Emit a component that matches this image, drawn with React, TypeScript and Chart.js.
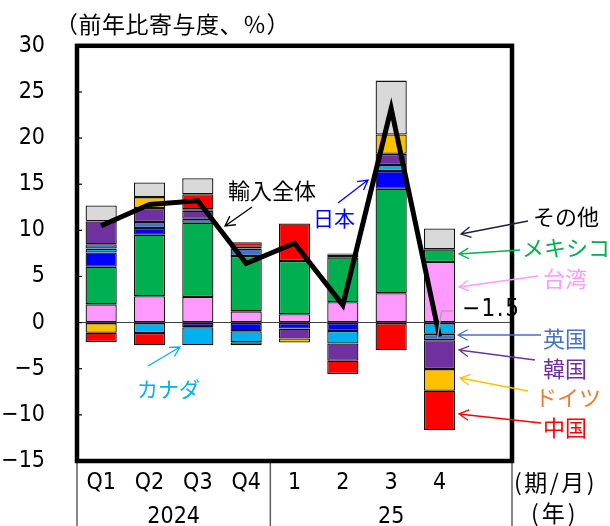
import React, { useEffect, useRef } from 'react';
import { Chart, registerables } from 'chart.js';

Chart.register(...registerables);

// ---- data ----
const categories = ['Q1', 'Q2', 'Q3', 'Q4', '1', '2', '3', '4', ''];
const yearLabels = ['2024', '25'];

const taiwan = [1.98, 2.85, 2.77, 1.22, 0.9, 2.2, 3.18, 6.57, null];
const mexico = [4.07, 6.68, 8.05, 6.0, 5.77, 4.87, 11.32, 1.37, null];
const japan = [1.54, 0.71, -0.51, -0.94, -0.65, -0.9, 1.92, null, null];
const canada = [0.43, -1.13, -1.95, -1.19, null, -1.37, 0.65, -1.22, null];
const uk = [0.47, 0.65, 0.43, 0.8, null, 0.3, null, -0.68, null];
const korea = [2.48, 1.52, 0.87, -0.32, -1.08, -1.87, 1.22, -3.14, null];
const germany = [-1.1, 1.19, 0.17, 0.2, -0.43, 0.12, 2.1, -2.35, null];
const china = [-1.0, -1.33, 1.62, 0.5, 4.08, -1.44, -2.99, -4.27, null];
const others = [1.73, 1.59, 1.73, null, null, null, 5.84, 2.27, null];
const totalImports = [10.5, 12.8, 13.2, 6.4, 8.6, 1.9, 23.2, -1.5, null];

const seriesNames = ['台湾', 'メキシコ', '日本', 'カナダ', '英国', '韓国', 'ドイツ', '中国', 'その他'];
const seriesData = [taiwan, mexico, japan, canada, uk, korea, germany, china, others];
const seriesColors = ['#FF99FF', '#00B050', '#0000FF', '#00B0F0', '#4472C4', '#7030A0', '#FFC000', '#FF0000', '#D9D9D9'];

const yMin = -15;
const yMax = 30;
const yStep = 5;

const NARROW = "'Liberation Sans Narrow', 'DejaVu Sans Condensed', 'Liberation Sans', sans-serif";
const JP = "'Noto Sans CJK JP', 'Noto Sans', sans-serif";

function arrow(ctx: CanvasRenderingContext2D, x1: number, y1: number, x2: number, y2: number, color: string) {
  ctx.save();
  ctx.strokeStyle = color;
  ctx.lineWidth = 1.3;
  ctx.beginPath();
  ctx.moveTo(x1, y1);
  ctx.lineTo(x2, y2);
  const a = Math.atan2(y2 - y1, x2 - x1);
  const L = 11;
  const s = 0.5;
  ctx.moveTo(x2 - L * Math.cos(a - s), y2 - L * Math.sin(a - s));
  ctx.lineTo(x2, y2);
  ctx.lineTo(x2 - L * Math.cos(a + s), y2 - L * Math.sin(a + s));
  ctx.stroke();
  ctx.restore();
}

function text(ctx: CanvasRenderingContext2D, s: string, x: number, y: number, color: string, font: string, spacing = 0) {
  ctx.save();
  ctx.fillStyle = color;
  ctx.font = font;
  ctx.textAlign = 'left';
  ctx.textBaseline = 'middle';
  (ctx as any).letterSpacing = spacing + 'px';
  ctx.fillText(s, x, y);
  ctx.restore();
}

const decorPlugin = {
  id: 'decor',
  afterDraw(chart: any) {
    const ctx: CanvasRenderingContext2D = chart.ctx;
    const { left, right, top, bottom } = chart.chartArea;
    const xs = chart.scales.x;
    const ys = chart.scales.y;
    const H = chart.height;

    ctx.save();
    // inner y tick marks
    ctx.strokeStyle = '#000';
    ctx.lineWidth = 1.2;
    for (let v = yMin + yStep; v < yMax; v += yStep) {
      const y = ys.getPixelForValue(v);
      ctx.beginPath();
      ctx.moveTo(left, y);
      ctx.lineTo(left + 5, y);
      ctx.stroke();
    }
    // separators under the axis
    ctx.strokeStyle = '#606060';
    ctx.lineWidth = 1.5;
    const mid = (xs.getPixelForValue(3) + xs.getPixelForValue(4)) / 2;
    [left, mid, right].forEach((x) => {
      ctx.beginPath();
      ctx.moveTo(x, bottom);
      ctx.lineTo(x, H);
      ctx.stroke();
    });
    // plot border
    ctx.strokeStyle = '#000';
    ctx.lineWidth = 4.5;
    ctx.strokeRect(left, top, right - left, bottom - top);
    ctx.restore();

    // year labels, centred in their groups
    ctx.save();
    ctx.font = `23px ${NARROW}`;
    ctx.fillStyle = '#000';
    ctx.textAlign = 'center';
    ctx.textBaseline = 'middle';
    ctx.fillText(yearLabels[0], (left + mid) / 2, 517);
    ctx.fillText(yearLabels[1], (mid + right) / 2, 517);
    ctx.restore();

    // title and unit labels
    text(ctx, '（前年比寄与度、％）', 55, 24, '#000', `23px ${JP}`, 0.5);
    text(ctx, '(期/月)', 514, 482, '#000', `23px ${JP}`, 2.5);
    text(ctx, '(年)', 531, 513, '#000', `23px ${JP}`, 3);

    // annotations
    text(ctx, '輸入全体', 228, 191, '#000', `22px ${JP}`);
    arrow(ctx, 252, 207, 225, 226, '#000');
    text(ctx, '日本', 313, 218, '#0000FF', `21px ${JP}`);
    arrow(ctx, 338, 203, 368, 180, '#0000FF');
    text(ctx, 'カナダ', 137, 389, '#00B0F0', `21px ${JP}`);
    arrow(ctx, 148, 366, 180, 347, '#00B0F0');

    // -1.5 label with leader
    const x4 = xs.getPixelForValue(7);
    const y4 = ys.getPixelForValue(totalImports[7] as number);
    ctx.save();
    ctx.strokeStyle = '#A6A6A6';
    ctx.lineWidth = 1.3;
    ctx.beginPath();
    ctx.moveTo(x4 - 2, y4 + 2);
    ctx.lineTo(x4 + 2, 311);
    ctx.lineTo(x4 + 13, 311);
    ctx.stroke();
    ctx.restore();
    text(ctx, '−1.5', 462, 310, '#000', `24px ${NARROW}`, 1.5);

    // right side labels
    const legend: [string, string, string, number, number, number, number, number, number][] = [
      ['その他', '#000', '#1F1F3F', 533, 217, 528, 221, 461, 234],
      ['メキシコ', '#00B050', '#00B050', 522, 248, 520, 250, 459, 254],
      ['台湾', '#FF99FF', '#FF99FF', 543, 279, 538, 276, 459, 287],
      ['英国', '#4472C4', '#4472C4', 543, 339, 541, 335, 458, 335],
      ['韓国', '#7030A0', '#7030A0', 543, 369, 535, 360, 459, 350],
      ['ドイツ', '#ED7D31', '#FFC000', 535, 398, 528, 391, 460, 378],
      ['中国', '#FF0000', '#FF0000', 543, 428, 541, 423, 459, 414],
    ];
    legend.forEach(([s, tc, ac, tx, ty, ax1, ay1, ax2, ay2]) => {
      arrow(ctx, ax1, ay1, ax2, ay2, ac);
      text(ctx, s, tx, ty, tc, `22px ${JP}`);
    });
  },
};

export default function App() {
  const ref = useRef<HTMLCanvasElement | null>(null);

  useEffect(() => {
    document.body.style.margin = '0';
    const canvas = ref.current;
    if (!canvas) return;
    const barSets = seriesNames.map((name, i) => ({
      type: 'bar' as const,
      label: name,
      data: seriesData[i],
      backgroundColor: seriesColors[i],
      borderColor: '#111111',
      borderWidth: 1.3,
      borderSkipped: false,
      stack: 'bars',
      barPercentage: 0.645,
      categoryPercentage: 1,
      order: 2,
    }));
    const chart = new Chart(canvas, {
      type: 'bar',
      data: {
        labels: categories,
        datasets: [
          ...barSets,
          {
            type: 'line' as const,
            label: '輸入全体',
            data: totalImports,
            borderColor: '#000',
            borderWidth: 5,
            pointRadius: 0,
            tension: 0,
            stack: 'total',
            order: 0,
            spanGaps: false,
          } as any,
        ],
      },
      options: {
        responsive: false,
        animation: false,
        layout: { padding: { top: 44, right: 98, left: 0, bottom: 0 } },
        plugins: { legend: { display: false }, tooltip: { enabled: false } },
        scales: {
          x: {
            stacked: true,
            grid: { display: false, drawTicks: false },
            border: { display: false },
            ticks: {
              font: { family: NARROW, size: 23 },
              color: '#000',
              padding: 8,
              maxRotation: 0,
              autoSkip: false,
            },
            afterFit: (s: any) => {
              s.height = 65;
            },
          },
          y: {
            stacked: true,
            min: yMin,
            max: yMax,
            ticks: {
              stepSize: yStep,
              padding: 32,
              font: { family: NARROW, size: 23 },
              color: '#000',
              callback: (v: any) => (Number(v) < 0 ? '−' + Math.abs(Number(v)) : String(v)),
            },
            grid: {
              drawTicks: false,
              color: (c: any) => (c.tick && c.tick.value === 0 ? '#404040' : 'rgba(0,0,0,0)'),
              lineWidth: 1,
            },
            border: { display: false },
            afterFit: (s: any) => {
              s.width = 77;
            },
          },
        },
      } as any,
      plugins: [decorPlugin],
    });
    return () => chart.destroy();
  }, []);

  return <canvas ref={ref} width={610} height={526} style={{ display: 'block' }} />;
}
